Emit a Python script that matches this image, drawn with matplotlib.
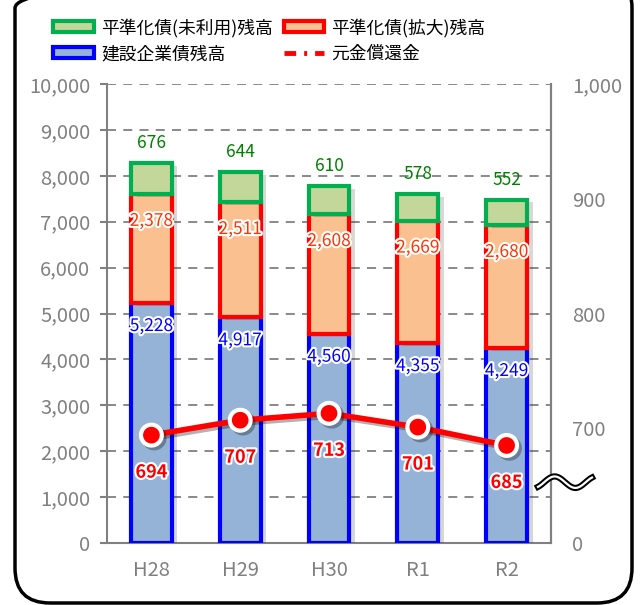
import numpy as np
import matplotlib
matplotlib.use('Agg')
import matplotlib.pyplot as plt
import matplotlib.patheffects as pe
import matplotlib.transforms as mtransforms
from matplotlib.patches import Patch, FancyBboxPatch
from matplotlib.lines import Line2D

plt.rcParams['font.family'] = ['Noto Sans CJK JP', 'DejaVu Sans']

# =====================
# data
years = ['H28', 'H29', 'H30', 'R1', 'R2']
kigyo = [5228, 4917, 4560, 4355, 4249]      # 建設企業債残高
kakudai = [2378, 2511, 2608, 2669, 2680]    # 平準化債(拡大)残高
miriyo = [676, 644, 610, 578, 552]          # 平準化債(未利用)残高
shokan = [694, 707, 713, 701, 685]          # 元金償還金

left_ticks = [0, 1000, 2000, 3000, 4000, 5000, 6000, 7000, 8000, 9000, 10000]
right_ticks = [600, 700, 800, 900, 1000]
right_labels = ['0', '700', '800', '900', '1,000']

# colours
blue_f, blue_e = '#95b3d7', '#0000ff'
ora_f, ora_e = '#fac090', '#ff0000'
grn_f, grn_e = '#c4d79b', '#00b050'
gray = '#808080'

# =====================
# figure
fig = plt.figure(figsize=(6.42, 6.05), dpi=100)
ax = fig.add_axes([107/642, 1-543/605, 444/642, 459/605])

x = np.arange(len(years))
kigyo = np.array(kigyo)
kakudai = np.array(kakudai)
miriyo = np.array(miriyo)
w = 0.46
shadow = [pe.SimplePatchShadow(offset=(4, -2), alpha=0.2), pe.Normal()]

ax.bar(x, kigyo, w, color=blue_f, edgecolor=blue_e, linewidth=3, zorder=3, path_effects=shadow)
ax.bar(x, kakudai, w, bottom=kigyo, color=ora_f, edgecolor=ora_e, linewidth=3, zorder=4, path_effects=shadow)
ax.bar(x, miriyo, w, bottom=kigyo+kakudai, color=grn_f, edgecolor=grn_e, linewidth=3, zorder=5, path_effects=shadow)

white = [pe.withStroke(linewidth=3, foreground='white')]
for i in range(len(years)):
    ax.annotate(f'{kigyo[i]:,}', (x[i], kigyo[i]), xytext=(0, -23), textcoords='offset pixels',
                ha='center', va='center', color='#0000ff', fontsize=12.5, zorder=10, path_effects=white)
    ax.annotate(f'{kakudai[i]:,}', (x[i], kigyo[i]+kakudai[i]), xytext=(0, -27), textcoords='offset pixels',
                ha='center', va='center', color='#ff3300', fontsize=12.5, zorder=10, path_effects=white)
    ax.annotate(f'{miriyo[i]:,}', (x[i], kigyo[i]+kakudai[i]+miriyo[i]), xytext=(0, 20), textcoords='offset pixels',
                ha='center', va='center', color='#008000', fontsize=12.5, zorder=10)

ax.set_xlim(-0.5, len(years)-0.5)
ax.set_ylim(0, 10000)
ax.set_yticks(left_ticks)
ax.set_yticklabels([f'{v:,}' for v in left_ticks])
ax.set_xticks(x)
ax.set_xticklabels(years)
ax.grid(axis='y', color=gray, linestyle=(0, (5, 4)), linewidth=1.3, zorder=0)
ax.tick_params(axis='y', colors=gray, labelsize=14.5, length=5, width=1.5, pad=7)
ax.tick_params(axis='x', colors=gray, labelsize=14.5, length=0, pad=12)
ax.spines['top'].set_visible(False)
for s in ['left', 'right', 'bottom']:
    ax.spines[s].set_color(gray)
    ax.spines[s].set_linewidth(1.5)

# right axis
ax2 = ax.twinx()
ax2.set_ylim(600, 1000)
ax2.set_yticks(right_ticks)
ax2.set_yticklabels(right_labels)
ax2.tick_params(axis='y', colors=gray, labelsize=14.5, length=0, pad=15)
for s in ['top', 'left', 'bottom']:
    ax2.spines[s].set_visible(False)
ax2.spines['right'].set_color(gray)
ax2.spines['right'].set_linewidth(1.5)

ax2.plot(x, shokan, color='#ff0000', linewidth=4, marker='o', markersize=15,
         markerfacecolor='#ff0000', markeredgecolor='white', markeredgewidth=3, zorder=6,
         path_effects=[pe.SimpleLineShadow(offset=(2, -2), alpha=0.3), pe.Normal()])
for i in range(len(years)):
    ax2.annotate(str(shokan[i]), (x[i], shokan[i]), xytext=(0, -37), textcoords='offset pixels',
                 ha='center', va='center', color='#ff0000', fontsize=13, fontweight='bold',
                 zorder=10, path_effects=white)

# break mark on right axis
trans = mtransforms.blended_transform_factory(ax2.transAxes, ax2.transData)
x0, x1 = 431/444, 485/444
wx = np.linspace(x0, x1, 80)
t = (wx - x0) / (x1 - x0)
wy = 653 + 5 * np.sin(-0.3*np.pi + t * 2.6 * np.pi)
ax2.plot(wx, wy, color='black', linewidth=4.5, transform=trans, clip_on=False, zorder=8)
ax2.plot(wx, wy, color='white', linewidth=1.6, transform=trans, clip_on=False, zorder=9)

# legend
handles = [
    Patch(facecolor=grn_f, edgecolor=grn_e, linewidth=3),
    Patch(facecolor=blue_f, edgecolor=blue_e, linewidth=3),
    Patch(facecolor=ora_f, edgecolor=ora_e, linewidth=3),
    Line2D([0], [0], color='#ff0000', linewidth=3.5, linestyle=(2.5, (4.9, 1.65, 0.6, 1.65))),
]
labels = ['平準化債(未利用)残高', '建設企業債残高', '平準化債(拡大)残高', '元金償還金']
fig.legend(handles, labels, loc='upper left', bbox_to_anchor=(46/642, 1-11/605), ncol=2,
           frameon=False, fontsize=12.8, handlelength=2.3, handleheight=0.55,
           handletextpad=0.4, columnspacing=0.6, labelspacing=0.45, borderaxespad=0)

# rounded frame
frame = FancyBboxPatch((0.15, 0.02), 6.17, 6.3, boxstyle='round,pad=0,rounding_size=0.35',
                       transform=fig.dpi_scale_trans, facecolor='none', edgecolor='black',
                       linewidth=2.5, clip_on=False)
fig.patches.append(frame)

plt.savefig('out.png', dpi=100)
